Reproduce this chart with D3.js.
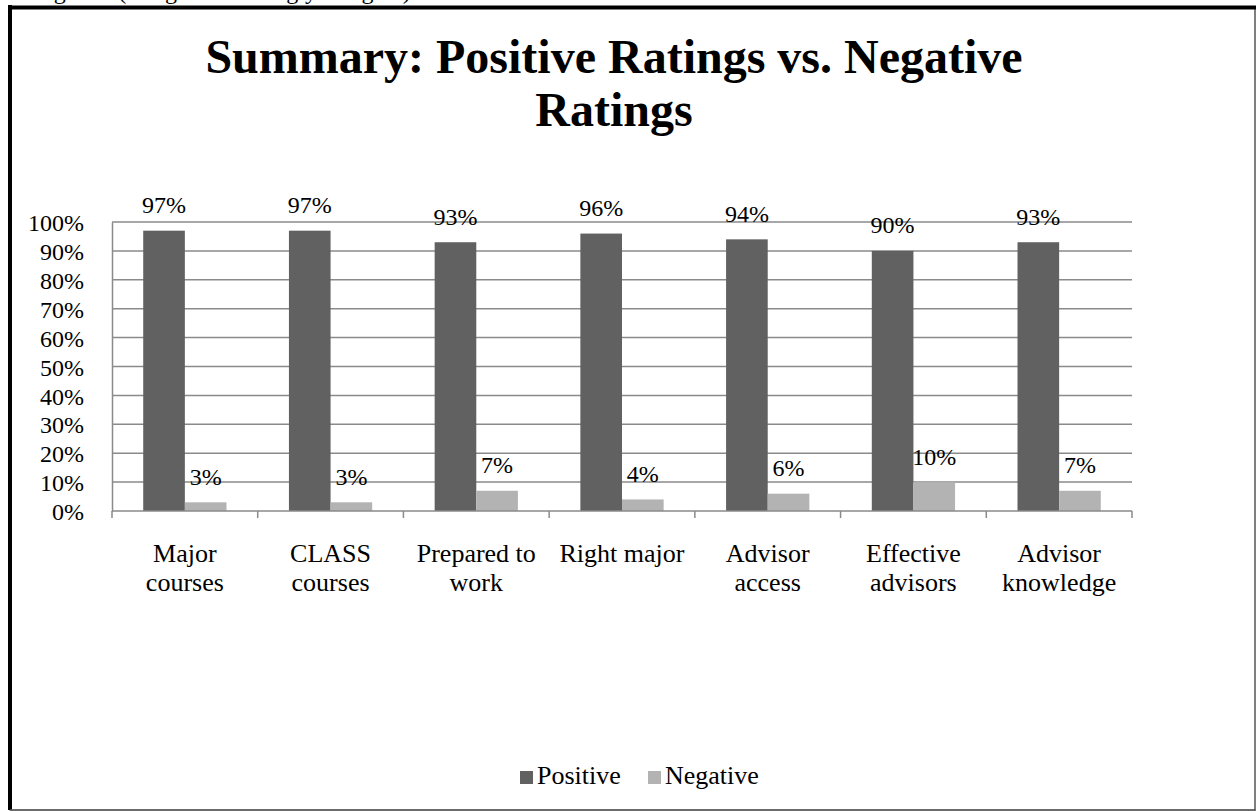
<!DOCTYPE html>
<html>
<head>
<meta charset="utf-8">
<script src="https://cdn.jsdelivr.net/npm/d3@7"></script>
<style>
  html, body { margin: 0; padding: 0; background: #fff; }
  svg { display: block; }
  svg text { font-family: "Liberation Serif", "Times New Roman", serif !important; fill: #000; }
</style>
</head>
<body>
<svg id="chart" width="1257" height="811" font-family="Liberation Serif, serif"></svg>
<script>
const categories = [
  ["Major", "courses"],
  ["CLASS", "courses"],
  ["Prepared to", "work"],
  ["Right major"],
  ["Advisor", "access"],
  ["Effective", "advisors"],
  ["Advisor", "knowledge"]
];
const seriesNames = ["Positive", "Negative"];
const positive = [97, 97, 93, 96, 94, 90, 93];
const negative = [3, 3, 7, 4, 6, 10, 7];
const yTicks = [0, 10, 20, 30, 40, 50, 60, 70, 80, 90, 100];
const titleLines = ["Summary: Positive Ratings vs. Negative", "Ratings"];
const topNote = "negative (disagree or strongly disagree)";

const colors = { Positive: "#616161", Negative: "#b3b3b3" };
const gridColor = "#8a8a8a";
const FONT = "Liberation Serif, Times New Roman, serif";

const svg = d3.select("#chart");

// cut-off line of text above the frame
svg.append("text").attr("x", 31).attr("y", -1).attr("font-size", 24)
  .attr("font-family", FONT).text(topNote);

// frame
svg.append("rect").attr("x", 10).attr("y", 7.5).attr("width", 1245).attr("height", 802.5)
  .attr("fill", "none").attr("stroke", "#000").attr("stroke-width", 1);
svg.append("line").attr("x1", 10).attr("x2", 10).attr("y1", 5).attr("y2", 810)
  .attr("stroke", "#000").attr("stroke-width", 4);
svg.append("line").attr("x1", 8).attr("x2", 1256).attr("y1", 7.5).attr("y2", 7.5)
  .attr("stroke", "#000").attr("stroke-width", 4);
svg.append("line").attr("x1", 10).attr("x2", 1256).attr("y1", 810).attr("y2", 810)
  .attr("stroke", "#666").attr("stroke-width", 1.5);

// title
svg.append("g").selectAll("text").data(titleLines).join("text")
  .attr("x", 614).attr("y", (d, i) => 73 + i * 53).attr("text-anchor", "middle")
  .attr("font-family", FONT).attr("font-size", 48).attr("font-weight", "bold").text(d => d);

const pLeft = 112, pRight = 1132, pTop = 222, pBottom = 511;

const x = d3.scaleBand().domain(d3.range(categories.length)).range([pLeft, pRight]).padding(0);
const xs = d3.scaleBand().domain(seriesNames).range([0, x.bandwidth()]).paddingInner(0).paddingOuter(0.75);
const y = d3.scaleLinear().domain([0, 100]).range([pBottom, pTop]);

// gridlines
svg.append("g").selectAll("line").data(yTicks.filter(d => d > 0)).join("line")
  .attr("x1", pLeft).attr("x2", pRight)
  .attr("y1", d => y(d)).attr("y2", d => y(d))
  .attr("stroke", gridColor).attr("stroke-width", 1.5);

// y axis
const yAxis = d3.axisLeft(y).tickValues(yTicks).tickFormat(d => d + "%").tickSize(0).tickPadding(28);
const yg = svg.append("g").attr("transform", `translate(${pLeft},0)`).call(yAxis);
yg.attr("font-family", FONT).attr("font-size", 24);
yg.select(".domain").attr("stroke", gridColor).attr("stroke-width", 1.5);
yg.selectAll("text").attr("font-size", 24).attr("font-family", FONT)
  .attr("fill", "#000").attr("dy", "0.36em");

// bars
const data = [];
categories.forEach((c, i) => {
  data.push({ i, s: "Positive", v: positive[i] });
  data.push({ i, s: "Negative", v: negative[i] });
});
svg.append("g").selectAll("rect").data(data).join("rect")
  .attr("x", d => x(d.i) + xs(d.s))
  .attr("width", xs.bandwidth())
  .attr("y", d => y(d.v))
  .attr("height", d => y(0) - y(d.v))
  .attr("fill", d => colors[d.s]);

// x axis line & ticks
const xg = svg.append("g");
xg.append("line").attr("x1", pLeft).attr("x2", pRight).attr("y1", pBottom).attr("y2", pBottom)
  .attr("stroke", gridColor).attr("stroke-width", 1.5);
const bounds = d3.range(categories.length + 1).map(k => pLeft + k * x.step());
xg.selectAll("line.tk").data(bounds).join("line").attr("class", "tk")
  .attr("x1", d => d).attr("x2", d => d).attr("y1", pBottom).attr("y2", pBottom + 7)
  .attr("stroke", gridColor).attr("stroke-width", 1.5);

// value labels
svg.append("g").selectAll("text").data(data).join("text")
  .attr("x", d => x(d.i) + xs(d.s) + xs.bandwidth() / 2)
  .attr("y", d => y(d.v) - 17.5)
  .attr("text-anchor", "middle").attr("font-size", 24).attr("font-family", FONT)
  .text(d => d.v + "%");

// category labels
const cl = svg.append("g").selectAll("text").data(categories).join("text")
  .attr("x", (d, i) => x(i) + x.bandwidth() / 2)
  .attr("y", 562).attr("text-anchor", "middle").attr("font-size", 26).attr("font-family", FONT);
cl.selectAll("tspan").data(d => d).join("tspan")
  .attr("x", function() { return d3.select(this.parentNode).attr("x"); })
  .attr("dy", (d, j) => j === 0 ? 0 : 29)
  .text(d => d);

// legend
const legendItems = [
  { s: "Positive", sx: 520, tx: 537 },
  { s: "Negative", sx: 648, tx: 665 }
];
const lg = svg.append("g");
lg.selectAll("rect").data(legendItems).join("rect")
  .attr("x", d => d.sx).attr("y", 771).attr("width", 13).attr("height", 13)
  .attr("fill", d => colors[d.s]);
lg.selectAll("text").data(legendItems).join("text")
  .attr("x", d => d.tx).attr("y", 784).attr("font-size", 26).attr("font-family", FONT).text(d => d.s);
</script>
</body>
</html>
